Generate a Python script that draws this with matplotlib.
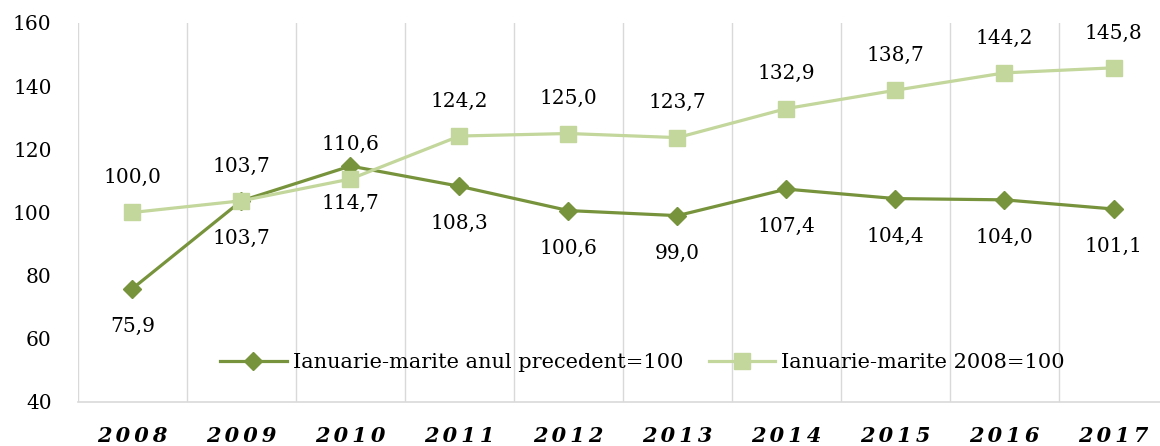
import matplotlib.pyplot as plt

years = ["2008", "2009", "2010", "2011", "2012", "2013", "2014", "2015", "2016", "2017"]
prev_year = [75.9, 103.7, 114.7, 108.3, 100.6, 99.0, 107.4, 104.4, 104.0, 101.1]
base_2008 = [100.0, 103.7, 110.6, 124.2, 125.0, 123.7, 132.9, 138.7, 144.2, 145.8]

dark = "#77933C"
light = "#C3D69B"

plt.rcParams['font.family'] = ['DejaVu Serif']

fig = plt.figure(figsize=(11.6, 4.46), dpi=100)
ax = fig.add_axes([0.0672, 0.0987, 0.9397, 0.8498])

x = list(range(len(years)))
ax.plot(x, prev_year, color=dark, lw=2.3, marker='D', ms=9, label="Ianuarie-marite anul precedent=100", zorder=3)
ax.plot(x, base_2008, color=light, lw=2.3, marker='s', ms=11, label="Ianuarie-marite 2008=100", zorder=3)

for i in x:
    ax.annotate(f"{prev_year[i]:.1f}".replace(".", ","), (i, prev_year[i]), xytext=(0, -27),
                textcoords='offset points', ha='center', va='center', fontsize=14.5)
    ax.annotate(f"{base_2008[i]:.1f}".replace(".", ","), (i, base_2008[i]), xytext=(0, 25),
                textcoords='offset points', ha='center', va='center', fontsize=14.5)

ax.set_xlim(-0.5, len(years) - 0.5)
ax.set_ylim(40, 160)
ax.set_yticks(range(40, 161, 20))
ax.tick_params(axis='y', length=0, labelsize=14.5, pad=19)
ax.set_xticks(x)
ax.set_xticklabels(["\u2009".join(y) for y in years], fontsize=15, fontweight='bold', fontstyle='italic')
ax.tick_params(axis='x', length=0, pad=17)

ax.set_xticks([i - 0.5 for i in range(len(years) + 1)], minor=True)
ax.tick_params(axis='x', which='minor', length=0)
ax.grid(True, which='minor', axis='x', color='#d9d9d9', lw=1)
ax.set_axisbelow(True)

for s in ['top', 'right', 'left']:
    ax.spines[s].set_visible(False)
ax.spines['bottom'].set_color('#d9d9d9')
ax.spines['bottom'].set_linewidth(1.2)

ax.legend(loc='center', bbox_to_anchor=(0.518, 0.103), ncol=2, frameon=False, fontsize=15,
          handlelength=3.2, columnspacing=1.2, handletextpad=0.3, borderaxespad=0)

fig.savefig("out.png", dpi=100)
